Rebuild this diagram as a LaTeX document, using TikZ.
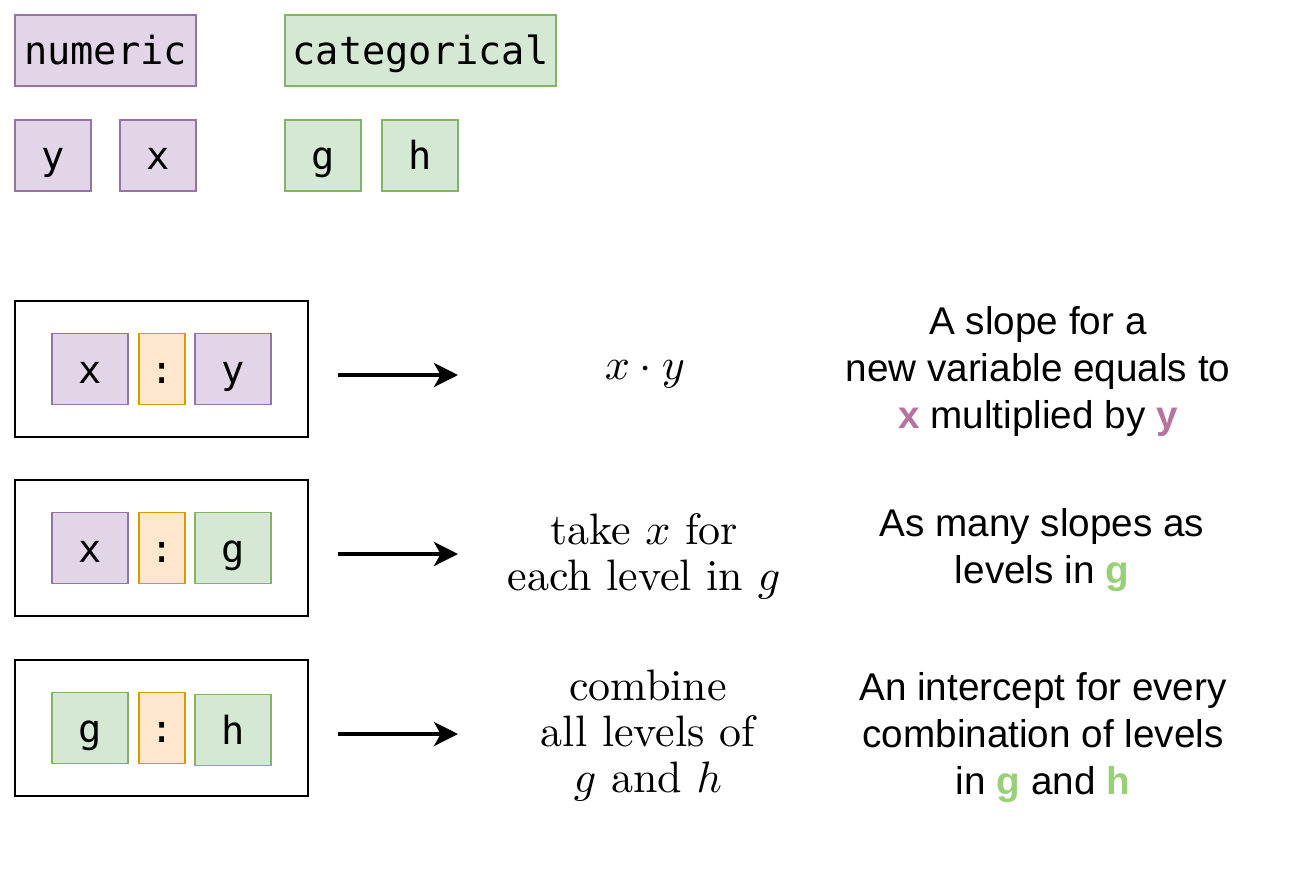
\documentclass[tikz,border=0pt]{standalone}
\usepackage{fontspec}
\usetikzlibrary{arrows.meta}
\newfontfamily\sansfont{Liberation Sans}
\newfontfamily\monofont{DejaVu Sans Mono}
\definecolor{numfill}{HTML}{E1D5E7}
\definecolor{numline}{HTML}{9673A6}
\definecolor{catfill}{HTML}{D5E8D4}
\definecolor{catline}{HTML}{82B366}
\definecolor{colfill}{HTML}{FFE6CC}
\definecolor{colline}{HTML}{D79B00}
\definecolor{numtext}{HTML}{B5739D}
\definecolor{cattext}{HTML}{97D077}
\newcommand{\bigformula}[1]{\scalebox{3.3}{\renewcommand{\arraystretch}{0.87}\begin{tabular}{@{}c@{}}#1\end{tabular}}}
\begin{document}
\begin{tikzpicture}[x=0.75pt, y=-0.75pt,
    var/.style={draw, line width=1pt, font=\monofont\fontsize{29}{34}\selectfont, text height=27pt, text depth=6pt, minimum height=53.25pt, minimum width=57pt, inner sep=0pt},
    num/.style={var, fill=numfill, draw=numline},
    cat/.style={var, fill=catfill, draw=catline},
    colon/.style={var, fill=colfill, draw=colline, minimum width=34.5pt},
    term/.style={draw, line width=1.1pt, minimum width=219.75pt, minimum height=102pt},
    meaning/.style={font=\sansfont\fontsize{29}{35.25}\selectfont, align=center},
    formula/.style={inner sep=0pt},
    arrow/.style={line width=3pt, -{Stealth[length=18pt, width=18pt, inset=5pt]}}]
    \useasboundingbox (0,0) rectangle (1289,890);
    % legend
    \node[num, minimum width=135.75pt] (numeric) at (105.5,50.5) {numeric};
    \node[cat, minimum width=203.25pt] (categorical) at (420.5,50.5) {categorical};
    \node[num] (vary) at (53,155.5) {y};
    \node[num] (varx) at (158,155.5) {x};
    \node[cat] (varg) at (323,155.5) {g};
    \node[cat] (varh) at (420,155.5) {h};
    % interaction terms
    \foreach \r/\yy/\la/\sa/\lb/\sb/\dy in {1/369/x/num/y/num/0, 2/548/x/num/g/cat/0, 3/728/g/cat/h/cat/2} {
        \node[term] (term\r) at (161.5,\yy) {};
        \node[\sa] (left\r) at (90,\yy) {\la};
        \node[colon] (colon\r) at (162,\yy) {:};
        \node[\sb] (right\r) at (233,\yy+\dy) {\lb};
        \coordinate (from\r) at (338,\yy+6);
        \coordinate (to\r) at (458,\yy+6);
        \draw[arrow] (from\r) -- (to\r);
      }
    % what they mean
    \node[formula] (form1) at (645,370) {\bigformula{$x\cdot y$}};
    \node[formula] (form2) at (644,558) {\bigformula{take $x$ for\\each level in $g$}};
    \node[formula] (form3) at (648,737) {\bigformula{combine\\all levels of\\$g$ and $h$}};
    \node[meaning] (mean1) at (1038,371) {A slope for a\\new variable equals to\\\textcolor{numtext}{\textbf{x}} multiplied by \textcolor{numtext}{\textbf{y}}};
    \node[meaning] (mean2) at (1042,550.5) {As many slopes as\\levels in \textcolor{cattext}{\textbf{g}}};
    \node[meaning] (mean3) at (1043,738) {An intercept for every\\combination of levels\\in \textcolor{cattext}{\textbf{g}} and \textcolor{cattext}{\textbf{h}}};
  \end{tikzpicture}
\end{document}
